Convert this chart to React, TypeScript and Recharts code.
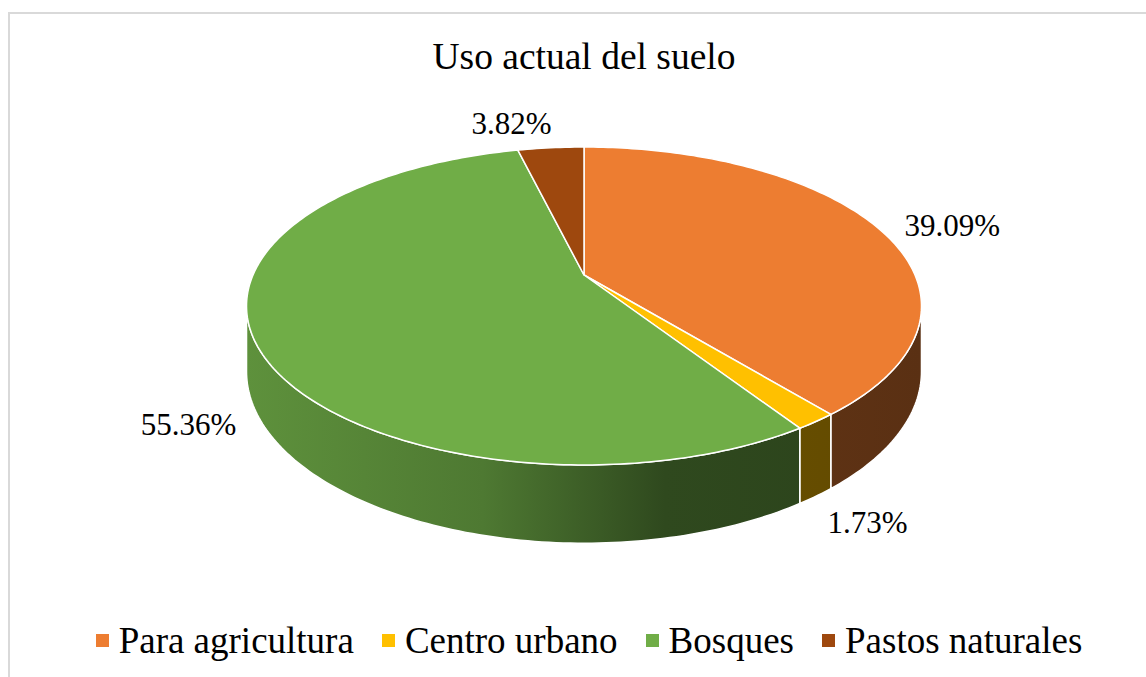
import React from 'react';
import { PieChart, Pie, Cell, Legend } from 'recharts';

const categories = ['Para agricultura', 'Centro urbano', 'Bosques', 'Pastos naturales'];
const shares = [39.09, 1.73, 55.36, 3.82];
const colors = ['#ED7D31', '#FFC000', '#70AD47', '#9E480E'];
const title = 'Uso actual del suelo';

const data = categories.map((name, i) => ({ name, value: shares[i] }));

const FONT = '"Liberation Serif", "Times New Roman", serif';
const W = 1146;
const H = 677;
const CX = 584;
const CY = 275;
const RADIUS = 331;
const TILT = 0.462; // vertical squash of the top face
const PERSP = 0.195; // perspective: back of the disc looks smaller
const DEPTH = 63; // thickness of the disc
const VIS = (Math.asin(PERSP) * 180) / Math.PI;

// nudges for the data labels (Excel "best fit" placement)
const labelShift: Record<string, [number, number]> = {
    'Para agricultura': [43, 4],
    'Centro urbano': [18, 5],
    Bosques: [-23, 7],
    'Pastos naturales': [-36, -12],
};

function project(cx: number, cy: number, rx: number, deg: number, r = 1, drop = 0) {
    const t = (deg * Math.PI) / 180;
    const s = Math.sin(t);
    const c = Math.cos(t);
    const d = 1 + PERSP * r * s;
    return [cx + (rx * r * c) / d, cy - (rx * TILT * r * s) / d + drop / d];
}

function arc(cx: number, cy: number, rx: number, a1: number, a2: number, drop = 0) {
    const n = Math.max(2, Math.ceil(Math.abs(a2 - a1)));
    const pts: string[] = [];
    for (let i = 0; i <= n; i++) {
        const [x, y] = project(cx, cy, rx, a1 + ((a2 - a1) * i) / n, 1, drop);
        pts.push(`${x.toFixed(2)},${y.toFixed(2)}`);
    }
    return pts;
}

function shade(hex: string, f: number) {
    const n = parseInt(hex.slice(1), 16);
    const r = Math.round(((n >> 16) & 255) * f);
    const g = Math.round(((n >> 8) & 255) * f);
    const b = Math.round((n & 255) * f);
    return `rgb(${r},${g},${b})`;
}

function colorOf(props: any) {
    const name = props.name ?? props.payload?.name;
    const i = categories.indexOf(name);
    return i >= 0 ? colors[i] : props.fill;
}

function TopShape(props: any) {
    const { cx, cy, outerRadius, startAngle, endAngle } = props;
    const pts = arc(cx, cy, outerRadius, startAngle, endAngle);
    return (
        <path
            d={`M${cx},${cy} L${pts.join(' L')} Z`}
            fill={colorOf(props)}
            stroke="#ffffff"
            strokeWidth={1.5}
            strokeLinejoin="round"
        />
    );
}

function SideShape(props: any) {
    const { cx, cy, outerRadius, startAngle, endAngle } = props;
    const lo = Math.min(startAngle, endAngle);
    const hi = Math.max(startAngle, endAngle);
    const color = colorOf(props);
    const id = `side-${categories.indexOf(props.name ?? props.payload?.name)}`;
    const paths: string[] = [];
    [-360, 0, 360].forEach((shift) => {
        const a = Math.max(lo, -180 + VIS + shift);
        const b = Math.min(hi, -VIS + shift);
        if (b - a > 0.01) {
            const top = arc(cx, cy, outerRadius, a, b);
            const bottom = arc(cx, cy, outerRadius, b, a, DEPTH);
            paths.push(`M${top.join(' L')} L${bottom.join(' L')} Z`);
        }
    });
    if (!paths.length) return <g />;
    return (
        <g>
            <defs>
                <linearGradient id={id} gradientUnits="userSpaceOnUse" x1={cx - outerRadius * 1.02} y1={0} x2={cx + outerRadius * 1.02} y2={0}>
                    <stop offset="0" stopColor={shade(color, 0.84)} />
                    <stop offset="0.35" stopColor={shade(color, 0.7)} />
                    <stop offset="0.62" stopColor={shade(color, 0.42)} />
                    <stop offset="1" stopColor={shade(color, 0.38)} />
                </linearGradient>
            </defs>
            {paths.map((d, i) => (
                <path key={i} d={d} fill={`url(#${id})`} stroke="#ffffff" strokeWidth={1.5} strokeLinejoin="round" />
            ))}
        </g>
    );
}

function renderLabel(props: any) {
    const { cx, cy, outerRadius, midAngle, value, name } = props;
    const s = Math.sin((midAngle * Math.PI) / 180);
    const [x, y] = project(cx, cy, outerRadius, midAngle, 1.12);
    const drop = s < 0 ? DEPTH / (1 + PERSP * s) : 0;
    const [dx, dy] = labelShift[name] ?? [0, 0];
    return (
        <text
            x={x + dx}
            y={y + drop + dy}
            textAnchor="middle"
            dominantBaseline="central"
            style={{ fontFamily: FONT, fontSize: 31 }}
            fill="#000000"
        >
            {`${Number(value).toFixed(2)}%`}
        </text>
    );
}

function renderLegend(props: any) {
    const seen = new Set<string>();
    const items = (props.payload ?? [])
        .filter((p: any) => {
            if (p.type === 'none' || seen.has(p.value) || categories.indexOf(p.value) < 0) return false;
            seen.add(p.value);
            return true;
        })
        .sort((a: any, b: any) => categories.indexOf(a.value) - categories.indexOf(b.value));
    return (
        <div style={{ display: 'flex', justifyContent: 'center', alignItems: 'center', fontFamily: FONT, fontSize: 37, color: '#000' }}>
            {items.map((p: any) => (
                <div key={p.value} style={{ display: 'flex', alignItems: 'center', margin: '0 14px' }}>
                    <span style={{ width: 13, height: 13, background: colorOf({ name: p.value, fill: p.color }), marginRight: 10 }} />
                    <span>{p.value}</span>
                </div>
            ))}
        </div>
    );
}

export default function App() {
    return (
        <div style={{ position: 'absolute', left: 0, top: 0, width: W, height: H, overflow: 'hidden', background: '#ffffff' }}>
            <div style={{ position: 'absolute', left: 8, top: 12, width: 1160, height: 700, border: '2px solid #d9d9d9' }} />
            <svg width={W} height={H} style={{ position: 'absolute', left: 0, top: 0, pointerEvents: 'none' }}>
                <text x={584} y={69} textAnchor="middle" fontFamily={FONT} fontSize={37.5} fill="#000000">
                    {title}
                </text>
            </svg>
            <div style={{ position: 'absolute', left: 0, top: 0 }}>
                <PieChart width={W} height={H} margin={{ top: 0, right: 0, bottom: 0, left: 0 }}>
                    <Pie
                        data={data}
                        dataKey="value"
                        nameKey="name"
                        cx={CX}
                        cy={CY}
                        outerRadius={RADIUS}
                        startAngle={90}
                        endAngle={-270}
                        stroke="none"
                        legendType="none"
                        shape={SideShape}
                        isAnimationActive={false}
                    >
                        {data.map((d, i) => (
                            <Cell key={`s-${d.name}`} fill={colors[i]} />
                        ))}
                    </Pie>
                    <Pie
                        data={data}
                        dataKey="value"
                        nameKey="name"
                        cx={CX}
                        cy={CY}
                        outerRadius={RADIUS}
                        startAngle={90}
                        endAngle={-270}
                        stroke="none"
                        legendType="square"
                        shape={TopShape}
                        label={renderLabel}
                        labelLine={false}
                        isAnimationActive={false}
                    >
                        {data.map((d, i) => (
                            <Cell key={`t-${d.name}`} fill={colors[i]} />
                        ))}
                    </Pie>
                    <Legend
                        content={renderLegend}
                        verticalAlign="bottom"
                        itemSorter={null as any}
                        wrapperStyle={{ position: 'absolute', top: 619, left: 16, width: W, bottom: 'auto' }}
                    />
                </PieChart>
            </div>
        </div>
    );
}
